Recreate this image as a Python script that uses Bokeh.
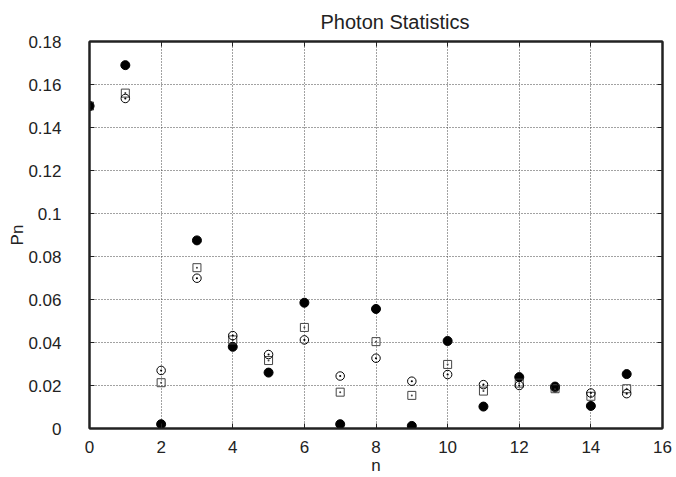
from bokeh.plotting import figure
from bokeh.models import LinearAxis, FixedTicker, Range1d
from bokeh.embed import file_html
from bokeh.resources import INLINE

# ---- data ----
n = list(range(16))
pn_filled = [0.150, 0.169, 0.002, 0.0875, 0.038, 0.026, 0.0585, 0.002,
             0.0556, 0.0012, 0.0407, 0.0102, 0.0239, 0.0195, 0.0105, 0.0253]
pn_square = [0.150, 0.156, 0.0213, 0.0748, 0.0412, 0.0316, 0.047, 0.0169,
             0.0404, 0.0154, 0.0298, 0.0174, 0.0211, 0.0185, 0.0150, 0.0185]
pn_circle = [0.150, 0.1535, 0.027, 0.0699, 0.0432, 0.0344, 0.0412, 0.0244,
             0.0327, 0.022, 0.0251, 0.0204, 0.0200, 0.019, 0.0165, 0.0162]
x_ticks = [0, 2, 4, 6, 8, 10, 12, 14, 16]
y_ticks = [0, 0.02, 0.04, 0.06, 0.08, 0.10, 0.12, 0.14, 0.16, 0.18]
y_tick_labels = ["0", "0.02", "0.04", "0.06", "0.08", "0.1", "0.12", "0.14", "0.16", "0.18"]

FONT = "Liberation Sans"

p = figure(width=676, height=477, output_backend="svg", toolbar_location=None,
           x_range=Range1d(0, 16), y_range=Range1d(0, 0.18),
           title="Photon Statistics",
           min_border_left=89, min_border_right=14, min_border_top=40, min_border_bottom=49,
           x_axis_label="n", y_axis_label="Pn")
p.background_fill_color = "white"
p.border_fill_color = "white"
p.outline_line_color = "#222222"
p.outline_line_width = 2

p.title.text_font = FONT
p.title.text_font_size = "20px"
p.title.text_font_style = "normal"
p.title.text_color = "#222222"
p.title.align = "left"
p.title.offset = 231
p.title.standoff = 17

for ax in [p.xaxis[0], p.yaxis[0]]:
    ax.major_label_text_font = FONT
    ax.major_label_text_font_size = "17px"
    ax.axis_label_text_font = FONT
    ax.axis_label_text_font_size = "17px"
    ax.axis_label_text_font_style = "normal"
    ax.major_tick_in = 5
    ax.major_tick_out = 0
    ax.minor_tick_line_color = None
    ax.axis_line_color = "#222222"
    ax.axis_line_width = 2
    ax.major_tick_line_color = "#222222"
    ax.major_label_text_color = "#222222"
    ax.axis_label_text_color = "#222222"

p.xaxis[0].ticker = FixedTicker(ticks=x_ticks)
p.yaxis[0].ticker = FixedTicker(ticks=y_ticks)
p.yaxis[0].major_label_overrides = {t: l for t, l in zip(y_ticks, y_tick_labels)}
p.xaxis[0].major_label_standoff = 12
p.xaxis[0].axis_label_standoff = 0
p.yaxis[0].major_label_standoff = 28
p.yaxis[0].axis_label_standoff = -2

# mirror axes (ticks only, no labels)
for side, tks in [("above", x_ticks), ("right", y_ticks)]:
    ax = LinearAxis(ticker=FixedTicker(ticks=tks), major_tick_in=5, major_tick_out=0,
                    minor_tick_line_color=None, major_label_text_color=None,
                    major_label_text_font_size="1px",
                    major_label_standoff=0, axis_line_color="#222222", axis_line_width=2,
                    major_tick_line_color="#222222")
    p.add_layout(ax, side)

p.xgrid.ticker = FixedTicker(ticks=x_ticks)
p.ygrid.ticker = FixedTicker(ticks=y_ticks)
for g in [p.xgrid[0], p.ygrid[0]]:
    g.grid_line_color = "#444444"
    g.grid_line_dash = "1 2"
    g.grid_line_width = 1

p.scatter(n, pn_filled, marker="circle", size=9, fill_color="black", line_color="black")
p.scatter(n, pn_square, marker="square_dot", size=8, fill_color=None, line_color="#444444", line_width=1)
p.scatter(n, pn_circle, marker="circle_dot", size=8.5, fill_color=None, line_color="black", line_width=1)

open("out.html", "w").write(file_html(p, INLINE))
